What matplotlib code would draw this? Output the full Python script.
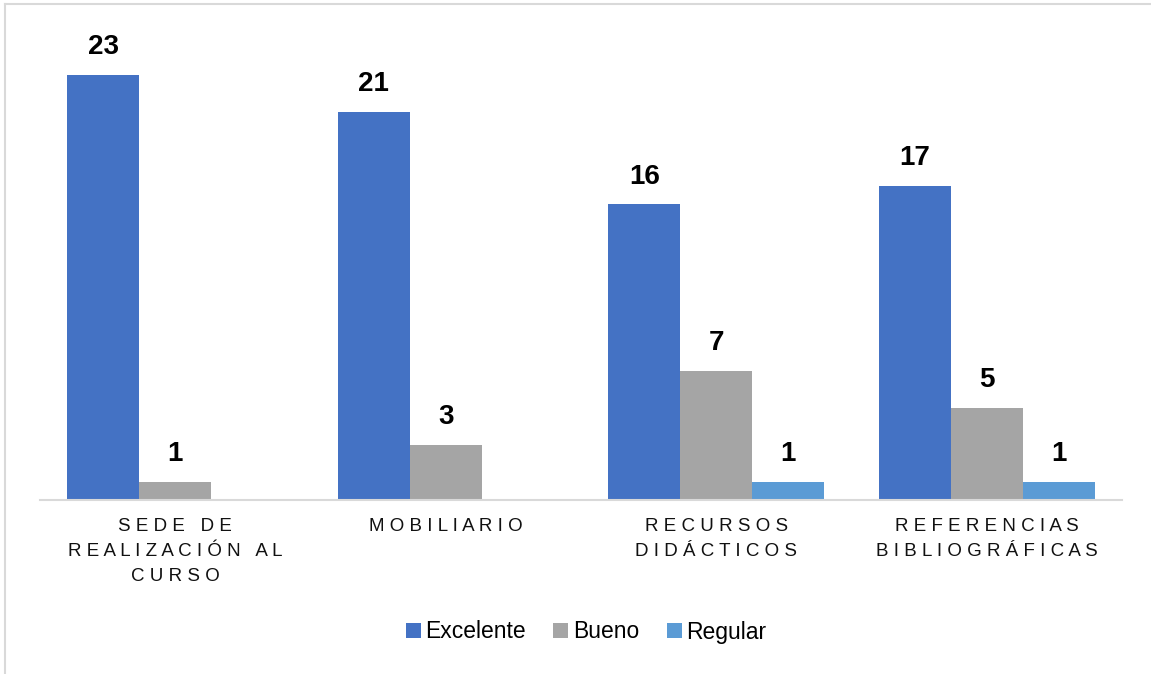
import numpy as np
import matplotlib.pyplot as plt
from matplotlib.lines import Line2D

plt.rcParams['font.family'] = ['Liberation Sans', 'DejaVu Sans']

categorias = ["SEDE DE\nREALIZACIÓN AL\nCURSO", "MOBILIARIO",
              "RECURSOS\nDIDÁCTICOS", "REFERENCIAS\nBIBLIOGRÁFICAS"]
excelente = [23, 21, 16, 17]
bueno = [1, 3, 7, 5]
regular = [0, 0, 1, 1]
series = ["Excelente", "Bueno", "Regular"]
colores = ["#4472C4", "#A5A5A5", "#5B9BD5"]


def espaciar(txt):
    # letter spacing like the original
    lineas = []
    for linea in txt.split("\n"):
        palabras = [" ".join(list(p)) for p in linea.split(" ")]
        lineas.append("   ".join(palabras))
    return "\n".join(lineas)


fig = plt.figure(figsize=(11.51, 6.74), dpi=100)
ax = fig.add_axes([40 / 1151, 1 - 500 / 674, (1122 - 40) / 1151, (500 - 38) / 674])

x = np.arange(len(categorias))
w = 72 / 271
valores = [excelente, bueno, regular]
for i, (vals, nombre, c) in enumerate(zip(valores, series, colores)):
    pos = x + (i - 1) * w
    if i == 2:
        # regular only exists where value > 0
        pos_v = [p for p, v in zip(pos, vals) if v > 0]
        vals_v = [v for v in vals if v > 0]
    else:
        pos_v, vals_v = list(pos), vals
    barras = ax.bar(pos_v, vals_v, width=w, color=c, label=nombre)
    for b, v in zip(barras, vals_v):
        ax.text(b.get_x() + b.get_width() / 2, v + 1.5, str(v),
                ha='center', va='center', fontsize=20, fontweight='bold')

ax.set_xlim(-0.5, 3.5)
ax.set_ylim(0, 25)
ax.set_yticks([])
ax.set_xticks(x)
ax.set_xticklabels([espaciar(c) for c in categorias], fontsize=13.5,
                   linespacing=1.6, color='#111111')
ax.tick_params(axis='x', length=0, pad=13)
for s in ['top', 'right', 'left']:
    ax.spines[s].set_visible(False)
ax.spines['bottom'].set_color('#D9D9D9')
ax.spines['bottom'].set_linewidth(1.5)

ax.legend(loc='center', bbox_to_anchor=(546 / 1082, (500 - 632) / 462), ncol=3,
          frameon=False, fontsize=16.5, handlelength=0.65, handleheight=0.65,
          handletextpad=0.2, columnspacing=1.2)

# light frame on left and top
fig.add_artist(Line2D([5 / 1151, 5 / 1151], [0, 1 - 4 / 674], color='#D9D9D9',
                      lw=1.5, transform=fig.transFigure))
fig.add_artist(Line2D([5 / 1151, 1], [1 - 4 / 674, 1 - 4 / 674], color='#D9D9D9',
                      lw=1.5, transform=fig.transFigure))

fig.savefig("out.png", dpi=100)
